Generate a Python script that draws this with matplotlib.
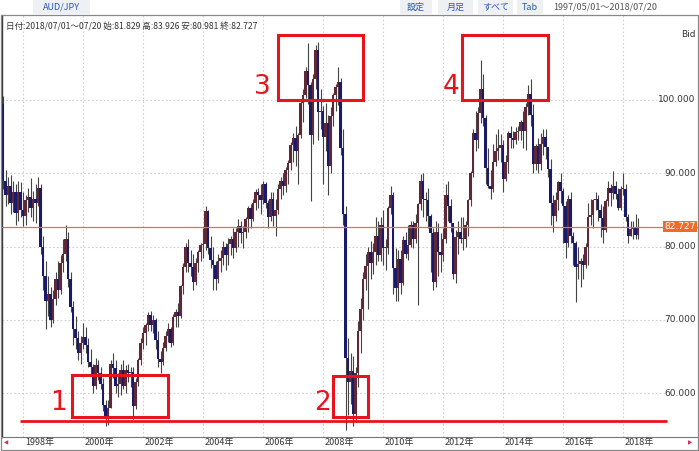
import matplotlib
matplotlib.use("Agg")
import matplotlib.pyplot as plt
import matplotlib.patches as patches
import numpy as np

plt.rcParams["font.family"] = ["Noto Sans CJK JP", "DejaVu Sans"]

# AUD/JPY monthly candles, 1997/05 .. 2018/07 (open = previous close)
first_open = 99.5
highs = [
    100.5, 90.5, 89.5, 89.8, 89.0, 88.6, 89.0, 88.8,
    87.5, 87.0, 88.0, 89.3, 87.6, 88.6, 89.5, 88.5, 81.5, 78.0, 76.0, 74.5,
    74.0, 76.5, 78.0, 78.8, 81.0, 83.0, 82.0, 76.5, 72.5, 70.5, 68.5, 67.8,
    69.5, 69.0, 67.5, 66.0, 64.0, 64.8, 64.5, 63.5, 62.0, 59.0, 59.0, 64.5,
    65.5, 64.5, 62.8, 64.0, 64.5, 63.8, 64.0, 63.5, 63.5, 62.0, 64.8, 67.5,
    69.0, 69.5, 71.0, 71.2, 70.6, 70.3, 68.5, 65.8, 67.0, 68.5, 69.5, 69.0,
    70.8, 71.5, 72.3, 74.8, 77.8, 80.5, 81.0, 79.5, 79.0, 78.5, 79.5, 80.5,
    82.5, 85.5, 85.0, 81.5, 80.0, 78.0, 79.0, 79.5, 80.8, 80.5, 81.2, 81.5,
    82.5, 82.5, 83.8, 83.5, 82.8, 84.0, 85.5, 85.8, 86.5, 87.8, 88.0, 88.5,
    89.0, 88.8, 86.3, 87.5, 87.5, 86.5, 88.5, 89.5, 90.0, 90.8, 91.8, 94.3,
    95.5, 96.5, 95.5, 99.8, 101.5, 104.5, 107.8, 102.5, 103.5, 107.5, 107.9, 101.5,
    99.2, 99.6, 98.0, 99.0, 101.0, 102.2, 104.5, 103.0, 96.0, 85.5, 67.5, 65.5,
    65.0, 63.5, 69.8, 73.0, 76.5, 79.0, 80.0, 80.8, 80.5, 84.0, 83.5, 84.0,
    85.0, 81.0, 85.5, 88.2, 87.5, 79.8, 79.5, 79.5, 81.5, 82.0, 83.0, 83.5,
    83.5, 84.5, 86.0, 89.9, 90.0, 87.5, 88.0, 84.5, 82.5, 83.5, 83.2, 81.8,
    82.5, 88.5, 89.0, 86.5, 83.0, 82.2, 83.5, 84.0, 84.0, 83.5, 86.5, 90.3,
    96.0, 98.5, 99.0, 105.4, 103.5, 98.0, 93.5, 90.5, 94.0, 95.3, 96.0, 95.3,
    94.5, 92.5, 95.8, 96.5, 95.8, 96.3, 96.5, 97.2, 98.5, 99.6, 102.0, 102.9,
    99.5, 94.0, 94.8, 95.5, 96.0, 96.0, 93.5, 92.0, 87.0, 87.5, 89.0, 90.0,
    88.0, 86.2, 87.0, 87.5, 82.0, 80.8, 80.0, 78.5, 79.0, 80.5, 86.0, 86.5,
    86.5, 87.5, 87.0, 85.8, 85.5, 86.5, 89.0, 88.5, 90.3, 89.0, 88.0, 88.2,
    90.0, 88.5, 84.5, 83.5, 83.5, 84.5, 83.926,
]
lows = [
    87.8, 85.5, 85.8, 84.5, 84.7, 83.0, 83.5, 84.0,
    82.8, 83.0, 84.7, 84.0, 83.5, 83.2, 85.5, 79.0, 74.0, 68.8, 70.5, 69.0,
    69.5, 72.0, 73.0, 73.5, 76.5, 78.0, 74.5, 71.0, 66.5, 66.0, 64.5, 64.0,
    66.0, 65.5, 63.5, 62.5, 60.0, 60.5, 61.8, 60.5, 57.5, 55.5, 55.6, 58.0,
    62.0, 60.0, 59.5, 59.8, 60.5, 60.0, 61.5, 60.8, 56.5, 57.8, 61.0, 63.8,
    66.0, 66.5, 68.5, 68.5, 68.2, 66.0, 63.5, 62.8, 63.8, 65.8, 67.0, 66.3,
    66.5, 69.0, 69.0, 70.2, 73.5, 76.5, 76.5, 76.0, 74.0, 74.8, 76.5, 78.0,
    78.5, 79.5, 79.0, 77.0, 74.0, 74.0, 75.0, 76.5, 77.5, 76.8, 77.5, 78.8,
    78.5, 79.3, 80.0, 80.5, 79.8, 81.2, 82.0, 82.5, 83.5, 85.0, 85.2, 84.5,
    85.8, 85.3, 82.5, 83.5, 82.8, 81.5, 84.5, 86.5, 87.0, 87.5, 88.6, 90.5,
    91.5, 91.0, 88.5, 94.8, 97.0, 100.3, 99.5, 86.2, 94.0, 101.5, 94.5, 96.0,
    88.6, 93.0, 87.0, 90.0, 96.5, 98.5, 99.3, 92.5, 83.0, 55.0, 57.0, 58.5,
    55.5, 56.0, 60.8, 65.5, 70.0, 74.0, 71.5, 75.5, 76.2, 77.5, 78.0, 78.0,
    77.5, 76.8, 79.0, 84.5, 73.5, 72.6, 72.5, 73.5, 74.8, 78.5, 78.2, 80.0,
    79.8, 80.5, 72.0, 85.0, 84.0, 83.5, 82.5, 76.5, 74.0, 74.5, 76.0, 76.5,
    78.0, 80.5, 83.5, 82.0, 75.5, 75.0, 79.0, 80.5, 79.5, 80.0, 81.5, 85.5,
    89.5, 93.0, 93.5, 96.8, 96.5, 88.5, 88.0, 86.5, 87.5, 91.0, 91.8, 91.5,
    87.5, 89.0, 90.0, 93.5, 93.5, 94.0, 94.5, 94.5, 93.5, 93.2, 98.0, 96.5,
    90.0, 90.5, 90.0, 90.5, 92.5, 92.0, 89.5, 83.0, 82.0, 83.5, 85.0, 86.0,
    80.5, 78.5, 80.0, 80.5, 77.5, 72.4, 75.5, 74.5, 75.5, 77.0, 77.5, 83.0,
    82.5, 85.0, 83.5, 81.3, 80.5, 82.0, 85.5, 85.5, 86.5, 86.5, 85.0, 85.0,
    87.0, 83.5, 80.5, 81.5, 81.0, 81.0, 80.981,
]
closes = [
    89.0, 87.0, 88.3, 86.0, 87.4, 84.6, 87.5, 85.0,
    84.2, 86.4, 86.8, 85.2, 86.5, 86.0, 88.0, 80.0, 76.0, 72.5, 73.5, 70.0,
    72.8, 75.5, 74.0, 77.8, 79.0, 81.0, 75.5, 71.8, 68.8, 67.5, 65.5, 66.8,
    67.6, 66.6, 64.2, 63.5, 61.0, 63.8, 62.7, 61.2, 58.3, 56.9, 58.0, 63.9,
    63.4, 61.0, 61.3, 63.2, 61.0, 63.2, 62.7, 62.9, 58.2, 61.5, 64.5, 66.8,
    68.2, 69.3, 70.7, 69.3, 70.0, 67.2, 64.6, 64.2, 66.2, 67.8, 68.7, 66.8,
    70.4, 71.0, 70.5, 74.6, 77.2, 80.0, 77.8, 77.2, 75.2, 77.8, 79.3, 80.2,
    80.3, 84.8, 79.8, 78.2, 77.5, 75.6, 78.0, 78.5, 80.0, 78.8, 80.4, 81.0,
    79.8, 82.0, 82.8, 81.8, 82.0, 83.8, 85.2, 83.8, 86.0, 87.5, 87.0, 86.3,
    88.6, 86.0, 84.0, 86.5, 84.2, 85.0, 87.8, 89.0, 88.3, 90.4, 91.4, 93.8,
    94.8, 93.0, 95.2, 99.6, 100.7, 104.0, 102.0, 95.2, 102.8, 106.8, 98.3, 98.5,
    95.0, 96.8, 91.0, 97.8, 100.7, 101.8, 102.5, 93.5, 84.5, 64.8, 61.5, 63.0,
    57.2, 62.8, 68.5, 71.5, 75.6, 77.4, 79.2, 77.8, 79.2, 81.5, 78.8, 83.0,
    79.8, 79.8, 85.3, 87.0, 77.0, 74.3, 78.3, 75.0, 80.9, 79.0, 80.2, 83.0,
    81.0, 83.2, 85.8, 89.0, 86.5, 86.3, 84.2, 81.8, 75.1, 82.0, 79.3, 78.8,
    81.0, 87.0, 85.5, 83.2, 76.2, 81.3, 82.0, 81.0, 81.0, 82.9, 86.3, 90.0,
    95.5, 94.5, 98.2, 101.5, 97.6, 90.7, 88.2, 87.9, 91.5, 93.0, 93.5, 93.8,
    89.2, 91.5, 95.5, 94.8, 94.6, 95.6, 95.8, 97.0, 95.8, 99.0, 100.8, 98.0,
    91.3, 93.7, 91.2, 94.0, 95.0, 93.6, 90.6, 86.0, 84.2, 86.3, 88.8, 87.6,
    85.5, 80.5, 86.5, 81.5, 80.5, 77.2, 77.6, 78.0, 77.5, 80.0, 84.0, 84.3,
    86.3, 86.5, 85.0, 83.9, 82.3, 86.2, 88.0, 87.3, 88.2, 87.1, 85.3, 87.9,
    87.9, 84.0, 81.5, 82.4, 82.6, 81.6, 82.727,
]
opens = [first_open] + closes[:-1]

year_labels = ["1998年", "2000年", "2002年", "2004年", "2006年", "2008年",
               "2010年", "2012年", "2014年", "2016年", "2018年"]
year_months = [8 + 24 * i for i in range(len(year_labels))]  # index of January
price_ticks = [60, 70, 80, 90, 100]
last_price = 82.727

# red hand-drawn markup: (x0, x1, y0, y1) in month index / price
boxes = [(27.6, 66.0, 56.7, 62.5), (132.0, 146.0, 56.7, 62.3),
         (110.0, 144.0, 100.0, 108.9), (183.6, 218.0, 100.0, 108.9)]
box_numbers = [("1", 22.0, 58.6), ("2", 127.6, 58.6),
               ("3", 103.6, 101.8), ("4", 179.2, 101.8)]
support_level = 56.2

W, H = 699, 451
fig = plt.figure(figsize=(W / 100, H / 100), dpi=100)
fig.patch.set_facecolor("white")


def fx(px):
    return px / W


def fy(py):
    return 1 - py / H


ax = fig.add_axes([fx(2), fy(437), fx(696), 422 / H])
ax.set_xlim(-0.4, 278)
ax.set_ylim(54.0, 111.6)
ax.set_xticks([])
ax.set_yticks([])
for s in ["top", "right"]:
    ax.spines[s].set_visible(False)
ax.spines["left"].set_color("#333333")
ax.spines["left"].set_linewidth(1.0)
ax.spines["bottom"].set_color("#777777")
ax.spines["bottom"].set_linewidth(0.8)

grid_kw = dict(color="#d0d0d0", linewidth=0.8, linestyle=(0, (1.5, 2)), zorder=0)
grid_end = 264.8
for p in price_ticks:
    ax.plot([-0.4, grid_end], [p, p], **grid_kw)
    ax.text(277.0, p, f"{p:.3f}", ha="right", va="center",
            fontsize=6.5, color="#333333", family=["DejaVu Sans"])
for m in year_months:
    ax.axvline(m, **grid_kw)

# candles
idx = np.arange(len(closes))
o = np.array(opens)
c = np.array(closes)
hi = np.array(highs)
lo = np.array(lows)
up = c >= o
up_color = "#5e2836"
down_color = "#1a1a6a"
cols = np.where(up, up_color, down_color)
ax.vlines(idx, lo, hi, colors="#444444", linewidth=0.8, zorder=2)
body_lo = np.minimum(o, c)
body_h = np.maximum(np.abs(c - o), 0.15)
ax.bar(idx, body_h, bottom=body_lo, width=0.85, color=cols,
       edgecolor="none", zorder=3)

# current price line + tag
ax.axhline(last_price, color="#d9783a", linewidth=0.9, zorder=4)
ax.text(277.0, last_price, f"{last_price:.3f}", ha="right", va="center",
        fontsize=6.5, color="white", family=["DejaVu Sans"], zorder=6,
        bbox=dict(boxstyle="square,pad=0.15", fc="#f06a28", ec="none"))
ax.text(277.0, 109.0, "Bid", ha="right", va="center", fontsize=6.5,
        color="#333333", family=["DejaVu Sans"])

# red markup
red = "#e8141c"
for x0, x1, y0, y1 in boxes:
    ax.add_patch(patches.Rectangle((x0, y0), x1 - x0, y1 - y0, fill=False,
                                   edgecolor=red, linewidth=2.2, zorder=7))
for label, x, y in box_numbers:
    ax.text(x, y, label, color=red, fontsize=19, ha="center", va="center",
            family=["DejaVu Sans"], zorder=7)
ax.plot([6.8, 265.6], [support_level, support_level], color=red,
        linewidth=2.0, zorder=7, solid_capstyle="butt")

# info line inside the chart
ax.text(1.0, 110.0, "日付:2018/07/01～07/20 始:81.829 高:83.926 安:80.981 終:82.727",
        ha="left", va="center", fontsize=6.2, color="#333333")

# x labels below
for lab, m in zip(year_labels, year_months):
    px = 3 + m * 2.5
    fig.text(fx(px + 2), fy(443), lab, ha="left", va="center", fontsize=6.5,
             color="#333333")
fig.text(fx(6), fy(443), "◀", ha="center", va="center", fontsize=4,
         color="#cc3355", family=["DejaVu Sans"])
fig.text(fx(690), fy(443), "▶", ha="center", va="center", fontsize=4,
         color="#cc3355", family=["DejaVu Sans"])

# outer frame
fig.patches.append(patches.Rectangle((fx(0.5), fy(450)), fx(697.5), fy(15) - fy(450),
                                     transform=fig.transFigure, fill=False,
                                     edgecolor="#888888", linewidth=0.9))

# header tabs / buttons
tabs = [("AUD/JPY", 33, 90), ("設定", 400, 432), ("月足", 438, 473),
        ("すべて", 478, 513), ("Tab", 517, 543)]
for lab, x0, x1 in tabs:
    fig.patches.append(patches.Rectangle((fx(x0), fy(14)), fx(x1 - x0), 14 / H,
                                         transform=fig.transFigure,
                                         facecolor="#eef0f4", edgecolor="none"))
    fig.text(fx((x0 + x1) / 2), fy(7), lab, ha="center", va="center",
             fontsize=6.5, color="#2a56b8")
fig.text(fx(553), fy(7), "1997/05/01～2018/07/20", ha="left", va="center",
         fontsize=6.5, color="#555555")

fig.savefig("out.png", dpi=100)
